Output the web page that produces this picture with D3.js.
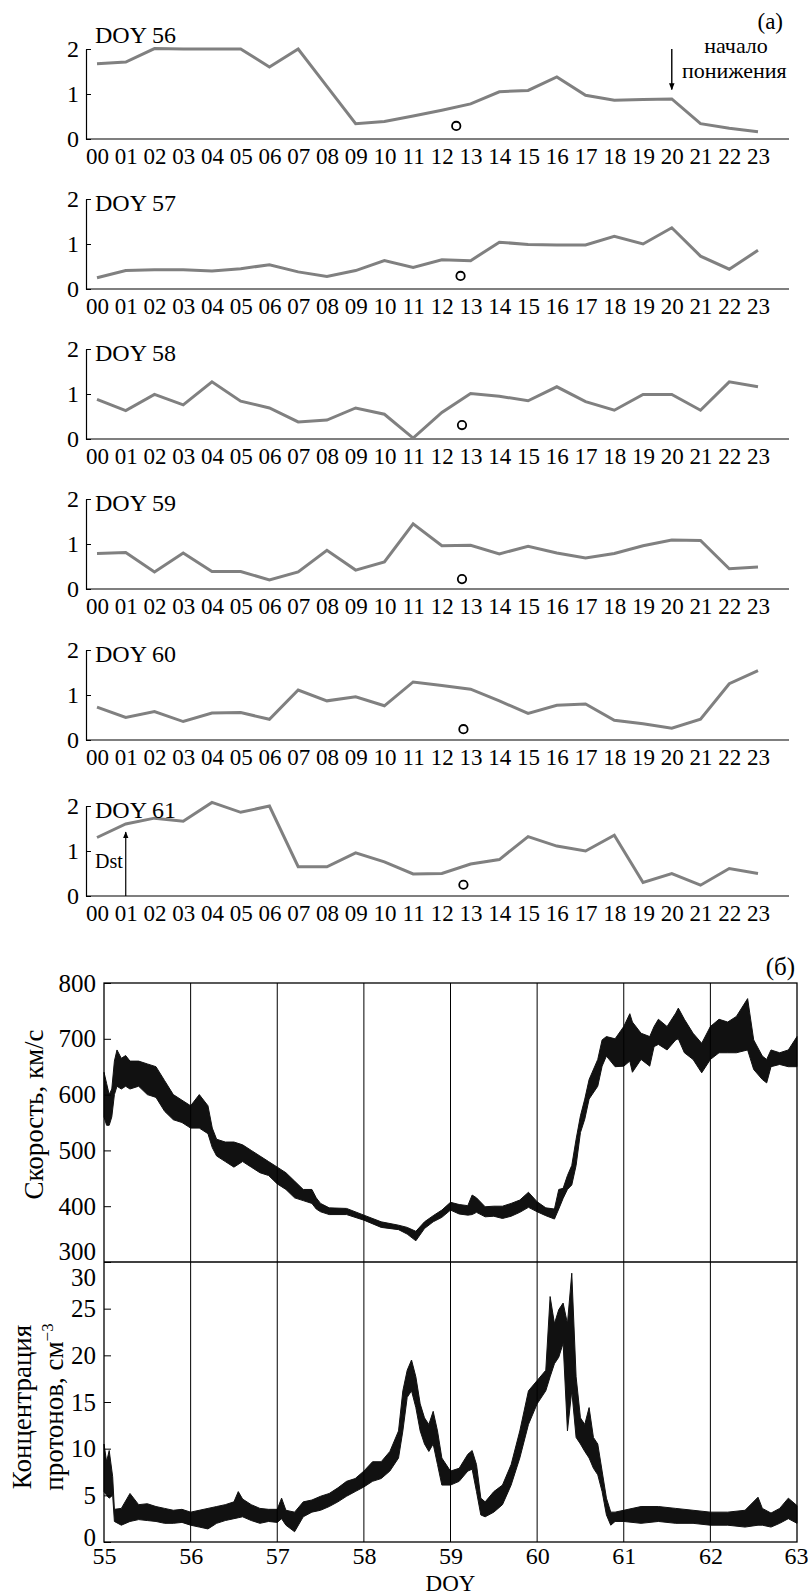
<!DOCTYPE html>
<html>
<head>
<meta charset="utf-8">
<script src="https://cdnjs.cloudflare.com/ajax/libs/d3/7.8.5/d3.min.js"></script>
<style>
  body { margin: 0; background: #fff; }
  svg { display: block; }
  svg text { font-family: "Liberation Serif", "Times New Roman", Times, serif !important; fill: #000; }
</style>
</head>
<body>
<script>
const W = 808, H = 1596
const serif = 'Liberation Serif'

// panel (a): hourly values, one list per day
const hours = ['00','01','02','03','04','05','06','07','08','09','10','11',
  '12','13','14','15','16','17','18','19','20','21','22','23']
const doys = [56, 57, 58, 59, 60, 61]
const day56 = [1.67,1.71,2.01,2.0,2.0,2.0,1.6,2.0,1.17,0.34,0.39,0.51,0.64,0.78,1.05,1.08,1.38,0.97,0.86,0.88,0.89,0.34,0.24,0.16]
const day57 = [0.25,0.41,0.43,0.43,0.4,0.45,0.54,0.38,0.28,0.41,0.63,0.48,0.65,0.63,1.04,0.99,0.98,0.98,1.17,1.0,1.36,0.73,0.44,0.86]
const day58 = [0.88,0.63,0.99,0.76,1.27,0.84,0.69,0.38,0.42,0.69,0.55,0.02,0.59,1.01,0.95,0.85,1.16,0.83,0.64,0.99,0.99,0.64,1.27,1.16]
const day59 = [0.79,0.81,0.38,0.8,0.39,0.39,0.2,0.38,0.86,0.42,0.6,1.45,0.96,0.97,0.78,0.95,0.8,0.69,0.79,0.96,1.09,1.08,0.45,0.49]
const day60 = [0.73,0.5,0.63,0.41,0.6,0.61,0.46,1.11,0.87,0.96,0.76,1.29,1.21,1.13,0.87,0.59,0.77,0.8,0.44,0.36,0.26,0.46,1.25,1.54]
const day61 = [1.3,1.6,1.73,1.66,2.08,1.86,2.0,0.65,0.65,0.96,0.76,0.49,0.5,0.71,0.81,1.32,1.11,1.0,1.35,0.3,0.5,0.24,0.61,0.5]
const dayValues = [day56, day57, day58, day59, day60, day61]
// open circles (hour, value) per day
const circleHour = [12.5, 12.65, 12.7, 12.7, 12.75, 12.75]
const circleValue = [0.29, 0.29, 0.31, 0.22, 0.24, 0.25]

// panel (б): envelopes (DOY, low, high)
const speedDoy = [55.0,55.03,55.06,55.09,55.12,55.15,55.2,55.25,55.3,55.4,55.5,55.6,55.7,55.8,55.9,56.0,56.1,56.2,56.25,56.3,56.4,56.5,56.6,56.7,56.8,56.9,57.0,57.1,57.2,57.3,57.4,57.45,57.5,57.6,57.8,58.0,58.2,58.4,58.5,58.6,58.7,58.8,58.9,59.0,59.1,59.2,59.25,59.3,59.4,59.5,59.6,59.7,59.8,59.9,60.0,60.1,60.2,60.25,60.3,60.35,60.4,60.45,60.5,60.55,60.6,60.7,60.75,60.8,60.9,61.0,61.07,61.1,61.2,61.3,61.35,61.4,61.5,61.6,61.63,61.7,61.8,61.9,62.0,62.1,62.2,62.3,62.43,62.5,62.6,62.65,62.7,62.8,62.9,63.0]
const speedLo = [560,545,545,560,600,615,610,615,610,615,600,595,570,555,550,540,540,530,505,490,480,470,480,470,460,455,440,430,415,410,405,395,390,385,385,375,362,358,350,338,360,372,380,393,386,384,385,389,381,382,378,382,389,398,390,383,377,395,414,430,438,473,532,556,592,615,651,669,650,651,660,640,663,651,686,690,680,698,700,675,663,639,663,675,675,675,680,645,627,621,650,654,650,650]
const speedHi = [640,620,600,610,660,680,665,670,660,660,655,650,625,600,590,580,600,580,540,520,515,515,510,500,490,480,470,460,445,430,430,415,405,397,396,384,372,366,362,355,372,383,393,407,403,401,420,415,399,400,400,405,411,425,408,397,395,430,432,455,473,520,562,592,627,663,698,704,700,722,745,730,710,704,722,735,722,746,755,735,710,692,722,735,730,740,772,698,669,663,680,675,680,704]

const densDoy = [55.0,55.03,55.06,55.1,55.12,55.2,55.3,55.4,55.5,55.6,55.7,55.8,55.9,56.0,56.1,56.2,56.3,56.4,56.5,56.55,56.6,56.7,56.8,56.9,57.0,57.05,57.1,57.2,57.3,57.4,57.5,57.6,57.7,57.8,57.9,58.0,58.1,58.2,58.3,58.4,58.45,58.5,58.55,58.6,58.65,58.7,58.75,58.8,58.85,58.9,59.0,59.1,59.2,59.25,59.3,59.35,59.4,59.5,59.6,59.7,59.8,59.9,60.0,60.1,60.15,60.2,60.25,60.3,60.35,60.4,60.45,60.5,60.55,60.6,60.65,60.7,60.75,60.8,60.85,60.9,61.0,61.2,61.4,61.6,61.8,62.0,62.2,62.4,62.55,62.6,62.7,62.8,62.9,63.0]
const densLo = [5.4,5.0,4.7,5.0,2.2,1.8,2.2,2.4,2.3,2.2,2.0,2.0,2.1,1.8,1.6,1.4,2.0,2.3,2.5,2.6,2.7,2.3,2.0,2.2,2.1,2.5,1.8,1.1,2.7,3.2,3.4,3.8,4.3,4.9,5.4,5.9,6.5,6.8,7.6,9.0,11.9,15.5,16.2,14.4,11.9,10.5,9.7,10.5,8.3,6.1,6.1,6.5,7.6,7.8,5.4,2.9,2.7,3.2,4.0,6.1,9.0,12.6,14.8,16.2,17.7,19.1,19.8,21.3,11.9,16.2,11.2,10.5,9.7,9.0,7.9,7.2,5.4,2.9,1.8,2.2,2.2,2.0,2.2,2.0,2.0,1.8,1.8,1.6,1.8,1.8,1.6,2.0,2.5,2.0]
const densHi = [10.5,8.6,9.8,7.0,3.5,3.6,5.2,4.0,4.1,3.8,3.6,3.4,3.5,3.2,3.4,3.6,3.8,4.0,4.3,5.4,4.6,4.0,3.6,3.5,3.5,4.7,3.4,3.2,4.3,4.5,4.9,5.2,5.8,6.5,6.8,7.6,8.6,8.6,9.7,11.9,16.2,18.4,19.5,17.7,14.8,13.3,12.6,14.0,11.9,9.0,7.6,7.9,9.4,9.8,8.3,4.7,4.3,5.4,6.1,8.3,11.9,16.2,17.3,18.4,26.3,23.4,24.9,25.6,23.4,28.8,17.7,13.3,12.6,14.4,11.2,10.5,7.6,4.7,3.2,3.2,3.4,3.8,3.8,3.6,3.4,3.2,3.2,3.4,4.8,3.6,3.1,3.6,4.7,3.9]

const doyTicks = [55, 56, 57, 58, 59, 60, 61, 62, 63]
const speedTicks = [300, 400, 500, 600, 700, 800]
const densTicks = [0, 5, 10, 15, 20, 25, 30]

const svg = d3.select('body').append('svg').attr('width', W).attr('height', H)
  .attr('font-family', serif)

const defs = svg.append('defs')
defs.append('marker').attr('id', 'head').attr('viewBox', '0 0 10 10')
  .attr('refX', 9).attr('refY', 5).attr('markerWidth', 7).attr('markerHeight', 10)
  .attr('markerUnits', 'userSpaceOnUse').attr('orient', 'auto')
  .append('path').attr('d', 'M0,1L10,5L0,9Z').attr('fill', '#000')

// ---------- panel (a) ----------
const aLeft = 86, aRight = 789
const aBase = [139, 289, 439, 589, 740, 896]
const hx = d3.scaleLinear().domain([0, 23]).range([97, 758])

doys.forEach((doy, i) => {
  const base = aBase[i]
  const y = d3.scaleLinear().domain([0, 2]).range([base, base - 90])
  const g = svg.append('g')

  g.append('line').attr('x1', aLeft).attr('x2', aRight).attr('y1', base).attr('y2', base)
    .attr('stroke', '#000').attr('stroke-width', 1.2)

  const xAx = g.append('g').attr('transform', `translate(0,${base})`)
    .call(d3.axisBottom(hx).tickValues(d3.range(24)).tickFormat(k => hours[k]).tickSize(0).tickPadding(9))
  xAx.select('.domain').remove()
  xAx.selectAll('text').attr('font-size', 23)

  const yAx = g.append('g').attr('transform', `translate(${aLeft},0)`)
    .call(d3.axisLeft(y).tickValues([0, 1, 2]).tickFormat(d3.format('d'))
      .tickSize(-5).tickSizeOuter(0).tickPadding(7))
  yAx.select('.domain').attr('stroke-width', 1.2)
  yAx.selectAll('text').attr('font-size', 24)

  g.append('path').datum(dayValues[i])
    .attr('d', d3.line().x((d, k) => hx(k)).y(d => y(d)))
    .attr('fill', 'none').attr('stroke', '#808080').attr('stroke-width', 3)

  g.append('circle').attr('cx', hx(circleHour[i])).attr('cy', y(circleValue[i])).attr('r', 4.2)
    .attr('fill', 'none').attr('stroke', '#000').attr('stroke-width', 1.8)

  g.append('text').attr('x', 95).attr('y', i === 0 ? y(2) - 6 : y(2) + 12)
    .attr('font-size', 24).text('DOY ' + doy)

  if (i === 0) {
    g.append('text').attr('x', 783).attr('y', 29).attr('font-size', 23)
      .attr('text-anchor', 'end').text('(a)')
    g.append('line').attr('x1', hx(20)).attr('x2', hx(20)).attr('y1', y(2)).attr('y2', y(1.1))
      .attr('stroke', '#000').attr('stroke-width', 1.4).attr('marker-end', 'url(#head)')
    g.append('text').attr('x', 736).attr('y', 53).attr('font-size', 22)
      .attr('text-anchor', 'middle').text('начало')
    g.append('text').attr('x', 682).attr('y', 78).attr('font-size', 22).text('понижения')
  }
  if (i === 5) {
    g.append('line').attr('x1', hx(1)).attr('x2', hx(1)).attr('y1', y(0)).attr('y2', y(1.42))
      .attr('stroke', '#000').attr('stroke-width', 1.2).attr('marker-end', 'url(#head)')
    g.append('text').attr('x', hx(1) - 3).attr('y', y(0.62)).attr('font-size', 20)
      .attr('text-anchor', 'end').text('Dst')
  }
})

// ---------- panel (б) ----------
const bLeft = 104, bRight = 797, sTop = 983, mid = 1262, dBot = 1542
const x = d3.scaleLinear().domain([55, 63]).range([bLeft, bRight])
const ys = d3.scaleLinear().domain([300, 800]).range([mid, sTop])
const yd = d3.scaleLinear().domain([0, 30]).range([dBot, mid])

const speed = speedDoy.map((d, k) => ({ doy: d, lo: speedLo[k], hi: speedHi[k] }))
const dens = densDoy.map((d, k) => ({ doy: d, lo: densLo[k], hi: densHi[k] }))

svg.append('path').datum(speed)
  .attr('d', d3.area().x(d => x(d.doy)).y0(d => ys(d.lo)).y1(d => ys(d.hi)))
  .attr('fill', '#111').attr('stroke', '#111').attr('stroke-width', 1)
svg.append('path').datum(dens)
  .attr('d', d3.area().x(d => x(d.doy)).y0(d => yd(d.lo)).y1(d => yd(d.hi)))
  .attr('fill', '#111').attr('stroke', '#111').attr('stroke-width', 1)

// grid lines at day boundaries
svg.append('g').selectAll('line').data(doyTicks.slice(1, -1)).join('line')
  .attr('x1', d => x(d)).attr('x2', d => x(d)).attr('y1', sTop).attr('y2', dBot)
  .attr('stroke', '#000').attr('stroke-width', 1)

// frames
svg.append('rect').attr('x', bLeft).attr('y', sTop).attr('width', bRight - bLeft).attr('height', dBot - sTop)
  .attr('fill', 'none').attr('stroke', '#000').attr('stroke-width', 1.3)
svg.append('line').attr('x1', bLeft).attr('x2', bRight).attr('y1', mid).attr('y2', mid)
  .attr('stroke', '#000').attr('stroke-width', 1.3)

const sAx = svg.append('g').attr('transform', `translate(${bLeft},0)`)
  .call(d3.axisLeft(ys).tickValues(speedTicks).tickSize(-7).tickSizeOuter(0).tickPadding(8))
sAx.select('.domain').remove()
sAx.selectAll('text').attr('font-size', 25)
  .filter(d => d === 300).attr('dy', '-0.1em')

const dAx = svg.append('g').attr('transform', `translate(${bLeft},0)`)
  .call(d3.axisLeft(yd).tickValues(densTicks).tickSize(-7).tickSizeOuter(0).tickPadding(8))
dAx.select('.domain').remove()
dAx.selectAll('text').attr('font-size', 25)
dAx.selectAll('text').filter(d => d === 30).attr('dy', '0.92em')
dAx.selectAll('text').filter(d => d === 0).attr('dy', '0.12em')

const xAxB = svg.append('g').attr('transform', `translate(0,${dBot})`)
  .call(d3.axisBottom(x).tickValues(doyTicks).tickFormat(d3.format('d')).tickSize(0).tickPadding(5))
xAxB.select('.domain').remove()
xAxB.selectAll('text').attr('font-size', 24)
  .filter(d => d === 63).attr('text-anchor', 'end').attr('dx', 11)

svg.append('text').attr('x', (bLeft + bRight) / 2).attr('y', 1591).attr('font-size', 23)
  .attr('text-anchor', 'middle').text('DOY')
svg.append('text').attr('x', 795).attr('y', 975).attr('font-size', 25)
  .attr('text-anchor', 'end').text('(б)')

svg.append('text').attr('transform', `translate(43,${(sTop + mid) / 2 - 8}) rotate(-90)`)
  .attr('font-size', 27).attr('text-anchor', 'middle').text('Скорость, км/с')

svg.append('text').attr('transform', `translate(31,${(mid + dBot) / 2 + 5}) rotate(-90)`)
  .attr('font-size', 27).attr('text-anchor', 'middle').text('Концентрация')
const t2 = svg.append('text').attr('transform', `translate(63,${(mid + dBot) / 2 + 5}) rotate(-90)`)
  .attr('font-size', 27).attr('text-anchor', 'middle')
t2.append('tspan').text('протонов, см')
t2.append('tspan').attr('dy', -10).attr('font-size', 17).text('−3')
</script>
</body>
</html>
